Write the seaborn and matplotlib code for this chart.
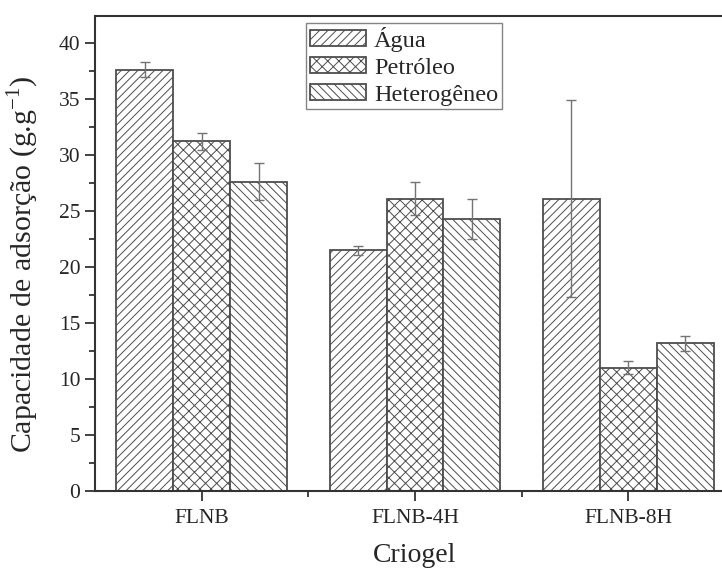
import numpy as np
import pandas as pd
import matplotlib
matplotlib.use("Agg")
import matplotlib.pyplot as plt
import seaborn as sns
from matplotlib.ticker import MultipleLocator, FixedLocator

categories = ["FLNB", "FLNB-4H", "FLNB-8H"]
series = ["Água", "Petróleo", "Heterogêneo"]
agua = [37.6, 21.5, 26.1]
petroleo = [31.2, 26.1, 11.0]
hetero = [27.6, 24.3, 13.2]
agua_err = [0.65, 0.4, 8.8]
petroleo_err = [0.75, 1.5, 0.6]
hetero_err = [1.65, 1.8, 0.67]
hatches = ["////", "xxx", "\\\\\\\\"]

sns.set_theme(style="ticks")
plt.rcParams["font.family"] = ["Liberation Serif", "DejaVu Serif"]
plt.rcParams["mathtext.fontset"] = "custom"
plt.rcParams["mathtext.rm"] = "Liberation Serif"
plt.rcParams["hatch.color"] = "0.5"
plt.rcParams["hatch.linewidth"] = 0.7

df = pd.DataFrame({
    "Criogel": categories * 3,
    "Série": [s for s in series for _ in categories],
    "Valor": agua + petroleo + hetero,
    "Erro": agua_err + petroleo_err + hetero_err,
})

fig = plt.figure(figsize=(7.22, 5.71), dpi=100)
ax = fig.add_axes([95 / 722, 80 / 571, 640 / 722, 475 / 571])

sns.barplot(data=df, x="Criogel", y="Valor", hue="Série", order=categories,
            hue_order=series, errorbar=None, palette=["white"] * 3,
            edgecolor="0.3", linewidth=1.3, width=0.8, saturation=1, ax=ax)

for cont, h, errs in zip(ax.containers, hatches, [agua_err, petroleo_err, hetero_err]):
    xs, ys = [], []
    for bar in cont:
        bar.set_hatch(h)
        xs.append(bar.get_x() + bar.get_width() / 2)
        ys.append(bar.get_height())
    ax.errorbar(xs, ys, yerr=errs, fmt="none", ecolor="0.45", elinewidth=1.0,
                capsize=3.5, capthick=1.0, zorder=5)

ax.set_xlim(-0.5, 2.5)
ax.set_ylim(0, 42.4)
ax.yaxis.set_major_locator(MultipleLocator(5))
ax.yaxis.set_minor_locator(MultipleLocator(2.5))
ax.xaxis.set_minor_locator(FixedLocator([0.5, 1.5]))
ax.tick_params(axis="both", which="major", direction="out", length=7, width=1.3,
               labelsize=15.5, color="0.2", labelcolor="0.15")
ax.tick_params(axis="both", which="minor", direction="out", length=4, width=1.3,
               color="0.2")
ax.tick_params(axis="x", which="major", pad=6)
for sp in ax.spines.values():
    sp.set_linewidth(1.5)
    sp.set_color("0.2")
    sp.set_visible(True)

ax.set_ylabel(r"Capacidade de adsorção (g.g$^{\mathregular{-1}}$)", fontsize=21.5,
              color="0.15")
ax.yaxis.set_label_coords(-0.084, 0.478)
ax.set_xlabel("Criogel", fontsize=20, color="0.15", labelpad=11)

handles, labels = ax.get_legend_handles_labels()
for hd, h in zip(handles, hatches):
    hd.set_hatch(h)
    hd.set_edgecolor("0.3")
    hd.set_facecolor("white")
    hd.set_linewidth(1.3)
leg = ax.legend(handles, labels, loc="upper left",
                bbox_to_anchor=(211 / 640, 1 - 7 / 475), fontsize=17.5,
                frameon=True, fancybox=False, edgecolor="0.4", handlelength=2.3,
                handleheight=0.65, borderpad=0.15, labelspacing=0.22,
                handletextpad=0.35, borderaxespad=0)
leg.get_frame().set_linewidth(1.0)
for t in leg.get_texts():
    t.set_color("0.15")

fig.savefig("out.png", dpi=100)
